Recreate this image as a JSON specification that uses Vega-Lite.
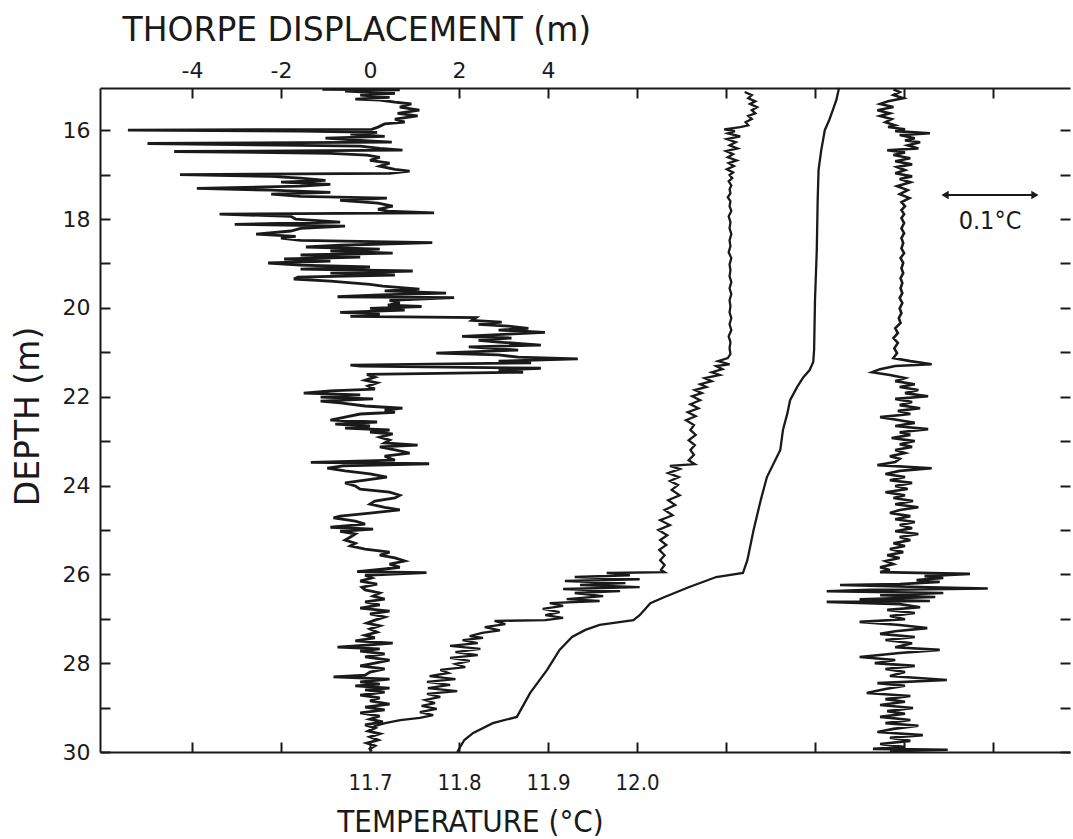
{
"$schema": "https://vega.github.io/schema/vega-lite/v6.json",
"width": 970, "height": 664,
"autosize": {"type": "none"},
"padding": {"left": 100, "top": 88, "right": 3, "bottom": 87},
"background": "white",
"config": {"view": {"stroke": null},
 "axis": {"domainColor": "#1a1a1a", "tickColor": "#1a1a1a", "labelColor": "#1a1a1a", "titleColor": "#1a1a1a", "grid": false, "labelFont": "DejaVu Sans", "titleFont": "DejaVu Sans", "titleFontWeight": "normal", "domainWidth": 2, "tickWidth": 2}},
"datasets": {
"thorpe": [
{"depth":15.08,"disp":-1.07},{"depth":15.09,"disp":0.67},{"depth":15.12,"disp":-0.56},{"depth":15.17,"disp":0.56},{"depth":15.21,"disp":-0.22},{"depth":15.26,"disp":0.44},{"depth":15.30,"disp":-0.33},{"depth":15.32,"disp":0.22},{"depth":15.37,"disp":0.56},{"depth":15.41,"disp":0.93},{"depth":15.48,"disp":0.67},{"depth":15.55,"disp":1.11},{"depth":15.62,"disp":0.62},{"depth":15.68,"disp":1.07},{"depth":15.75,"disp":0.56},{"depth":15.82,"disp":0.78},{"depth":15.86,"disp":0.33},{"depth":15.93,"disp":0.18},{"depth":15.98,"disp":0.04},
{"depth":16.00,"disp":-5.44},{"depth":16.02,"disp":-1.56},{"depth":16.05,"disp":0.16},{"depth":16.09,"disp":-0.44},{"depth":16.14,"disp":0.33},{"depth":16.18,"disp":-1.00},{"depth":16.23,"disp":-0.22},{"depth":16.27,"disp":0.49},{"depth":16.30,"disp":-5.00},{"depth":16.34,"disp":-1.56},{"depth":16.36,"disp":-0.22},{"depth":16.41,"disp":0.22},{"depth":16.45,"disp":0.73},{"depth":16.48,"disp":-4.40},{"depth":16.52,"disp":-0.89},{"depth":16.56,"disp":-0.07},{"depth":16.61,"disp":0.22},{"depth":16.68,"disp":0.00},{"depth":16.74,"disp":0.44},{"depth":16.81,"disp":0.22},{"depth":16.88,"disp":0.56},{"depth":16.92,"disp":0.89},{"depth":16.97,"disp":0.44},
{"depth":17.00,"disp":-4.27},{"depth":17.04,"disp":-2.22},{"depth":17.08,"disp":-1.56},{"depth":17.13,"disp":-1.00},{"depth":17.17,"disp":-2.00},{"depth":17.22,"disp":-0.89},{"depth":17.26,"disp":-1.56},{"depth":17.31,"disp":-3.89},{"depth":17.35,"disp":-2.22},{"depth":17.40,"disp":-0.89},{"depth":17.44,"disp":-2.22},{"depth":17.49,"disp":-1.56},{"depth":17.53,"disp":0.38},{"depth":17.58,"disp":-0.67},{"depth":17.64,"disp":0.18},{"depth":17.71,"disp":0.51},{"depth":17.78,"disp":0.18},{"depth":17.82,"disp":0.40},{"depth":17.86,"disp":1.44},{"depth":17.89,"disp":-3.38},{"depth":17.94,"disp":-1.78},
{"depth":18.00,"disp":-1.67},{"depth":18.07,"disp":-0.67},{"depth":18.12,"disp":-3.04},{"depth":18.16,"disp":-0.56},{"depth":18.21,"disp":-1.56},{"depth":18.27,"disp":-1.78},{"depth":18.34,"disp":-2.56},{"depth":18.39,"disp":-1.67},{"depth":18.43,"disp":-2.00},{"depth":18.48,"disp":-1.56},{"depth":18.53,"disp":1.40},{"depth":18.59,"disp":-0.67},{"depth":18.63,"disp":-1.44},{"depth":18.68,"disp":0.22},{"depth":18.72,"disp":-0.89},{"depth":18.77,"disp":0.51},{"depth":18.81,"disp":-1.56},{"depth":18.86,"disp":-0.22},{"depth":18.90,"disp":-1.93},{"depth":18.95,"disp":-0.89},{"depth":18.99,"disp":-2.29},
{"depth":19.04,"disp":-1.56},{"depth":19.08,"disp":0.00},{"depth":19.13,"disp":-1.56},{"depth":19.17,"disp":0.96},{"depth":19.22,"disp":-0.89},{"depth":19.26,"disp":0.56},{"depth":19.31,"disp":-1.62},{"depth":19.35,"disp":-1.71},{"depth":19.40,"disp":-0.89},{"depth":19.47,"disp":0.00},{"depth":19.51,"disp":0.29},{"depth":19.58,"disp":1.11},{"depth":19.62,"disp":0.33},{"depth":19.67,"disp":1.71},{"depth":19.71,"disp":0.22},{"depth":19.75,"disp":-0.73},{"depth":19.77,"disp":1.89},{"depth":19.83,"disp":0.44},{"depth":19.89,"disp":0.67},{"depth":19.94,"disp":0.40},{"depth":19.97,"disp":1.16},
{"depth":20.01,"disp":0.00},{"depth":20.05,"disp":0.78},{"depth":20.10,"disp":-0.67},{"depth":20.14,"disp":0.22},{"depth":20.19,"disp":-0.44},{"depth":20.22,"disp":2.38},{"depth":20.28,"disp":2.29},{"depth":20.32,"disp":2.96},{"depth":20.37,"disp":2.44},{"depth":20.41,"disp":3.11},{"depth":20.46,"disp":3.56},{"depth":20.50,"disp":2.89},{"depth":20.55,"disp":3.93},{"depth":20.59,"disp":3.11},{"depth":20.64,"disp":2.07},{"depth":20.68,"disp":3.18},{"depth":20.73,"disp":2.44},{"depth":20.77,"disp":2.89},{"depth":20.84,"disp":3.84},{"depth":20.88,"disp":2.22},{"depth":20.95,"disp":3.33},
{"depth":21.02,"disp":1.49},{"depth":21.06,"disp":2.89},{"depth":21.11,"disp":3.33},{"depth":21.15,"disp":4.67},{"depth":21.20,"disp":2.89},{"depth":21.24,"disp":3.62},{"depth":21.29,"disp":-0.44},{"depth":21.31,"disp":-0.22},{"depth":21.36,"disp":3.84},{"depth":21.40,"disp":2.89},{"depth":21.45,"disp":3.44},{"depth":21.50,"disp":-0.07},{"depth":21.56,"disp":0.11},{"depth":21.63,"disp":-0.11},{"depth":21.69,"disp":0.16},{"depth":21.76,"disp":-0.04},{"depth":21.83,"disp":0.11},{"depth":21.87,"disp":-0.89},{"depth":21.92,"disp":-1.49},{"depth":21.96,"disp":-0.22},
{"depth":22.01,"disp":-1.11},{"depth":22.05,"disp":0.07},{"depth":22.10,"disp":-1.11},{"depth":22.14,"disp":-0.67},{"depth":22.21,"disp":-0.11},{"depth":22.26,"disp":0.73},{"depth":22.30,"disp":0.33},{"depth":22.35,"disp":0.56},{"depth":22.39,"disp":-0.22},{"depth":22.46,"disp":-0.56},{"depth":22.53,"disp":-0.89},{"depth":22.57,"disp":0.16},{"depth":22.62,"disp":-0.78},{"depth":22.66,"disp":0.00},{"depth":22.71,"disp":-0.56},{"depth":22.75,"disp":0.44},{"depth":22.80,"disp":0.00},{"depth":22.84,"disp":0.51},{"depth":22.91,"disp":0.22},{"depth":22.98,"disp":0.44},
{"depth":23.04,"disp":0.33},{"depth":23.09,"disp":1.07},{"depth":23.13,"disp":0.22},{"depth":23.20,"disp":0.56},{"depth":23.27,"disp":0.89},{"depth":23.34,"disp":0.33},{"depth":23.43,"disp":0.56},{"depth":23.48,"disp":-1.33},{"depth":23.51,"disp":1.33},{"depth":23.56,"disp":-0.60},{"depth":23.61,"disp":-0.96},{"depth":23.67,"disp":-0.56},{"depth":23.74,"disp":0.00},{"depth":23.81,"disp":0.38},{"depth":23.88,"disp":-0.11},{"depth":23.94,"disp":-0.56},
{"depth":24.01,"disp":-0.33},{"depth":24.08,"disp":-0.22},{"depth":24.15,"disp":0.44},{"depth":24.22,"disp":0.67},{"depth":24.28,"disp":0.56},{"depth":24.35,"disp":0.11},{"depth":24.42,"disp":0.00},{"depth":24.49,"disp":0.33},{"depth":24.55,"disp":0.67},{"depth":24.62,"disp":0.00},{"depth":24.69,"disp":-0.67},{"depth":24.73,"disp":-0.82},{"depth":24.80,"disp":-0.33},{"depth":24.87,"disp":-0.11},{"depth":24.94,"disp":-0.89},{"depth":24.98,"disp":0.07},
{"depth":25.03,"disp":-0.67},{"depth":25.09,"disp":-0.33},{"depth":25.16,"disp":-0.44},{"depth":25.23,"disp":-0.56},{"depth":25.30,"disp":-0.33},{"depth":25.36,"disp":-0.44},{"depth":25.43,"disp":-0.11},{"depth":25.50,"disp":0.44},{"depth":25.57,"disp":0.22},{"depth":25.63,"disp":0.56},{"depth":25.70,"disp":0.78},{"depth":25.77,"disp":0.44},{"depth":25.84,"disp":0.67},{"depth":25.88,"disp":0.33},{"depth":25.94,"disp":-0.29},{"depth":25.96,"disp":1.27},
{"depth":26.02,"disp":-0.11},{"depth":26.08,"disp":0.04},{"depth":26.15,"disp":-0.22},{"depth":26.22,"disp":0.16},{"depth":26.29,"disp":-0.18},{"depth":26.35,"disp":-0.11},{"depth":26.42,"disp":0.22},{"depth":26.49,"disp":0.07},{"depth":26.56,"disp":0.33},{"depth":26.62,"disp":-0.11},{"depth":26.69,"disp":0.22},{"depth":26.76,"disp":-0.22},{"depth":26.83,"disp":0.44},{"depth":26.89,"disp":0.00},{"depth":26.96,"disp":0.33},
{"depth":27.03,"disp":0.11},{"depth":27.10,"disp":-0.07},{"depth":27.16,"disp":0.22},{"depth":27.23,"disp":0.00},{"depth":27.30,"disp":0.16},{"depth":27.37,"disp":-0.11},{"depth":27.43,"disp":0.11},{"depth":27.50,"disp":-0.33},{"depth":27.55,"disp":0.51},{"depth":27.59,"disp":0.00},{"depth":27.64,"disp":-0.73},{"depth":27.68,"disp":0.22},{"depth":27.73,"disp":-0.22},{"depth":27.79,"disp":0.33},{"depth":27.86,"disp":-0.11},{"depth":27.93,"disp":0.44},
{"depth":28.00,"disp":0.11},{"depth":28.06,"disp":-0.22},{"depth":28.13,"disp":0.33},{"depth":28.20,"disp":0.00},{"depth":28.27,"disp":-0.11},{"depth":28.31,"disp":-0.82},{"depth":28.36,"disp":0.44},{"depth":28.42,"disp":-0.22},{"depth":28.47,"disp":0.22},{"depth":28.51,"disp":-0.33},{"depth":28.56,"disp":0.44},{"depth":28.60,"disp":-0.11},{"depth":28.65,"disp":0.33},{"depth":28.72,"disp":-0.22},{"depth":28.78,"disp":0.22},{"depth":28.85,"disp":0.00},{"depth":28.92,"disp":0.44},{"depth":28.99,"disp":-0.11},
{"depth":29.05,"disp":0.33},{"depth":29.12,"disp":-0.22},{"depth":29.19,"disp":0.22},{"depth":29.26,"disp":0.00},{"depth":29.32,"disp":0.29},{"depth":29.39,"disp":-0.11},{"depth":29.46,"disp":0.11},{"depth":29.53,"disp":-0.04},{"depth":29.59,"disp":0.22},{"depth":29.66,"disp":0.00},{"depth":29.73,"disp":0.18},{"depth":29.80,"disp":-0.07},{"depth":29.86,"disp":0.11},{"depth":29.93,"disp":0.00},{"depth":29.98,"disp":0.04}
],
"temperature": [
{"profile":"measured","depth":15.14,"temp":12.121},{"profile":"measured","depth":15.21,"temp":12.129},{"profile":"measured","depth":15.28,"temp":12.125},{"profile":"measured","depth":15.35,"temp":12.133},{"profile":"measured","depth":15.41,"temp":12.127},{"profile":"measured","depth":15.48,"temp":12.135},{"profile":"measured","depth":15.55,"temp":12.129},{"profile":"measured","depth":15.62,"temp":12.133},{"profile":"measured","depth":15.68,"temp":12.125},{"profile":"measured","depth":15.75,"temp":12.129},{"profile":"measured","depth":15.82,"temp":12.122},{"profile":"measured","depth":15.89,"temp":12.125},{"profile":"measured","depth":15.93,"temp":12.116},{"profile":"measured","depth":15.98,"temp":12.098},
{"profile":"measured","depth":16.02,"temp":12.110},{"profile":"measured","depth":16.07,"temp":12.102},{"profile":"measured","depth":16.14,"temp":12.116},{"profile":"measured","depth":16.20,"temp":12.101},{"profile":"measured","depth":16.27,"temp":12.111},{"profile":"measured","depth":16.34,"temp":12.104},{"profile":"measured","depth":16.41,"temp":12.113},{"profile":"measured","depth":16.47,"temp":12.100},{"profile":"measured","depth":16.54,"temp":12.108},{"profile":"measured","depth":16.61,"temp":12.102},{"profile":"measured","depth":16.68,"temp":12.112},{"profile":"measured","depth":16.74,"temp":12.103},{"profile":"measured","depth":16.81,"temp":12.109},{"profile":"measured","depth":16.88,"temp":12.101},{"profile":"measured","depth":16.95,"temp":12.108},
{"profile":"measured","depth":17.01,"temp":12.104},{"profile":"measured","depth":17.08,"temp":12.107},{"profile":"measured","depth":17.15,"temp":12.103},{"profile":"measured","depth":17.24,"temp":12.106},{"profile":"measured","depth":17.33,"temp":12.104},{"profile":"measured","depth":17.42,"temp":12.105},{"profile":"measured","depth":17.51,"temp":12.102},{"profile":"measured","depth":17.60,"temp":12.105},{"profile":"measured","depth":17.71,"temp":12.104},{"profile":"measured","depth":17.82,"temp":12.106},{"profile":"measured","depth":17.94,"temp":12.103},
{"profile":"measured","depth":18.07,"temp":12.105},{"profile":"measured","depth":18.21,"temp":12.104},{"profile":"measured","depth":18.34,"temp":12.106},{"profile":"measured","depth":18.48,"temp":12.104},{"profile":"measured","depth":18.61,"temp":12.105},{"profile":"measured","depth":18.75,"temp":12.103},{"profile":"measured","depth":18.88,"temp":12.106},{"profile":"measured","depth":19.02,"temp":12.104},{"profile":"measured","depth":19.15,"temp":12.105},{"profile":"measured","depth":19.29,"temp":12.104},{"profile":"measured","depth":19.42,"temp":12.106},{"profile":"measured","depth":19.56,"temp":12.104},{"profile":"measured","depth":19.69,"temp":12.106},{"profile":"measured","depth":19.83,"temp":12.104},{"profile":"measured","depth":19.96,"temp":12.105},
{"profile":"measured","depth":20.10,"temp":12.104},{"profile":"measured","depth":20.23,"temp":12.106},{"profile":"measured","depth":20.37,"temp":12.104},{"profile":"measured","depth":20.50,"temp":12.106},{"profile":"measured","depth":20.64,"temp":12.103},{"profile":"measured","depth":20.77,"temp":12.105},{"profile":"measured","depth":20.91,"temp":12.104},{"profile":"measured","depth":21.04,"temp":12.105},{"profile":"measured","depth":21.13,"temp":12.102},{"profile":"measured","depth":21.20,"temp":12.091},{"profile":"measured","depth":21.27,"temp":12.104},{"profile":"measured","depth":21.31,"temp":12.089},{"profile":"measured","depth":21.38,"temp":12.096},{"profile":"measured","depth":21.45,"temp":12.084},{"profile":"measured","depth":21.51,"temp":12.093},{"profile":"measured","depth":21.58,"temp":12.076},{"profile":"measured","depth":21.65,"temp":12.084},{"profile":"measured","depth":21.72,"temp":12.071},{"profile":"measured","depth":21.78,"temp":12.078},{"profile":"measured","depth":21.85,"temp":12.065},{"profile":"measured","depth":21.92,"temp":12.073},{"profile":"measured","depth":21.99,"temp":12.062},
{"profile":"measured","depth":22.08,"temp":12.071},{"profile":"measured","depth":22.17,"temp":12.060},{"profile":"measured","depth":22.26,"temp":12.069},{"profile":"measured","depth":22.35,"temp":12.057},{"profile":"measured","depth":22.44,"temp":12.066},{"profile":"measured","depth":22.53,"temp":12.055},{"profile":"measured","depth":22.64,"temp":12.064},{"profile":"measured","depth":22.75,"temp":12.060},{"profile":"measured","depth":22.86,"temp":12.066},{"profile":"measured","depth":22.98,"temp":12.058},{"profile":"measured","depth":23.09,"temp":12.065},{"profile":"measured","depth":23.20,"temp":12.060},{"profile":"measured","depth":23.31,"temp":12.064},{"profile":"measured","depth":23.43,"temp":12.058},{"profile":"measured","depth":23.52,"temp":12.065},{"profile":"measured","depth":23.56,"temp":12.037},{"profile":"measured","depth":23.63,"temp":12.048},{"profile":"measured","depth":23.72,"temp":12.035},{"profile":"measured","depth":23.81,"temp":12.047},{"profile":"measured","depth":23.90,"temp":12.037},{"profile":"measured","depth":23.99,"temp":12.046},
{"profile":"measured","depth":24.10,"temp":12.039},{"profile":"measured","depth":24.22,"temp":12.048},{"profile":"measured","depth":24.33,"temp":12.035},{"profile":"measured","depth":24.44,"temp":12.043},{"profile":"measured","depth":24.55,"temp":12.031},{"profile":"measured","depth":24.67,"temp":12.040},{"profile":"measured","depth":24.78,"temp":12.026},{"profile":"measured","depth":24.89,"temp":12.037},{"profile":"measured","depth":25.00,"temp":12.024},{"profile":"measured","depth":25.12,"temp":12.034},{"profile":"measured","depth":25.23,"temp":12.026},{"profile":"measured","depth":25.34,"temp":12.033},{"profile":"measured","depth":25.45,"temp":12.025},{"profile":"measured","depth":25.57,"temp":12.031},{"profile":"measured","depth":25.68,"temp":12.026},{"profile":"measured","depth":25.79,"temp":12.031},{"profile":"measured","depth":25.90,"temp":12.027},{"profile":"measured","depth":25.95,"temp":12.031},{"profile":"measured","depth":25.97,"temp":11.966},
{"profile":"measured","depth":26.02,"temp":11.992},{"profile":"measured","depth":26.06,"temp":11.930},{"profile":"measured","depth":26.11,"temp":12.003},{"profile":"measured","depth":26.15,"temp":11.919},{"profile":"measured","depth":26.20,"temp":11.987},{"profile":"measured","depth":26.24,"temp":11.936},{"profile":"measured","depth":26.29,"temp":12.003},{"profile":"measured","depth":26.33,"temp":11.917},{"profile":"measured","depth":26.38,"temp":11.981},{"profile":"measured","depth":26.42,"temp":11.930},{"profile":"measured","depth":26.49,"temp":11.962},{"profile":"measured","depth":26.56,"temp":11.921},{"profile":"measured","depth":26.60,"temp":11.958},{"profile":"measured","depth":26.65,"temp":11.902},{"profile":"measured","depth":26.71,"temp":11.917},{"profile":"measured","depth":26.78,"temp":11.894},{"profile":"measured","depth":26.85,"temp":11.913},{"profile":"measured","depth":26.92,"temp":11.897},{"profile":"measured","depth":26.98,"temp":11.917},
{"profile":"measured","depth":27.03,"temp":11.897},{"profile":"measured","depth":27.05,"temp":11.840},{"profile":"measured","depth":27.12,"temp":11.852},{"profile":"measured","depth":27.19,"temp":11.829},{"profile":"measured","depth":27.26,"temp":11.846},{"profile":"measured","depth":27.32,"temp":11.826},{"profile":"measured","depth":27.39,"temp":11.812},{"profile":"measured","depth":27.43,"temp":11.827},{"profile":"measured","depth":27.48,"temp":11.804},{"profile":"measured","depth":27.55,"temp":11.821},{"profile":"measured","depth":27.61,"temp":11.790},{"profile":"measured","depth":27.68,"temp":11.824},{"profile":"measured","depth":27.75,"temp":11.796},{"profile":"measured","depth":27.82,"temp":11.821},{"profile":"measured","depth":27.88,"temp":11.790},{"profile":"measured","depth":27.95,"temp":11.812},
{"profile":"measured","depth":28.02,"temp":11.796},{"profile":"measured","depth":28.09,"temp":11.807},{"profile":"measured","depth":28.15,"temp":11.779},{"profile":"measured","depth":28.22,"temp":11.788},{"profile":"measured","depth":28.29,"temp":11.767},{"profile":"measured","depth":28.36,"temp":11.796},{"profile":"measured","depth":28.42,"temp":11.764},{"profile":"measured","depth":28.49,"temp":11.790},{"profile":"measured","depth":28.56,"temp":11.765},{"profile":"measured","depth":28.63,"temp":11.798},{"profile":"measured","depth":28.69,"temp":11.764},{"profile":"measured","depth":28.76,"temp":11.779},{"profile":"measured","depth":28.83,"temp":11.762},{"profile":"measured","depth":28.90,"temp":11.773},{"profile":"measured","depth":28.96,"temp":11.758},
{"profile":"measured","depth":29.03,"temp":11.775},{"profile":"measured","depth":29.10,"temp":11.756},{"profile":"measured","depth":29.17,"temp":11.771},{"profile":"measured","depth":29.23,"temp":11.756},{"profile":"measured","depth":29.28,"temp":11.734},{"profile":"measured","depth":29.35,"temp":11.717},{"profile":"measured","depth":29.41,"temp":11.706},{"profile":"measured","depth":29.46,"temp":11.702},
{"profile":"sorted","depth":15.05,"temp":12.227},{"profile":"sorted","depth":15.14,"temp":12.226},{"profile":"sorted","depth":15.32,"temp":12.224},{"profile":"sorted","depth":15.55,"temp":12.220},{"profile":"sorted","depth":15.77,"temp":12.216},{"profile":"sorted","depth":16.00,"temp":12.211},{"profile":"sorted","depth":16.23,"temp":12.209},{"profile":"sorted","depth":16.45,"temp":12.207},{"profile":"sorted","depth":16.90,"temp":12.204},{"profile":"sorted","depth":17.58,"temp":12.203},{"profile":"sorted","depth":18.70,"temp":12.202},{"profile":"sorted","depth":19.83,"temp":12.200},{"profile":"sorted","depth":20.95,"temp":12.199},{"profile":"sorted","depth":21.22,"temp":12.198},{"profile":"sorted","depth":21.40,"temp":12.194},{"profile":"sorted","depth":21.56,"temp":12.187},{"profile":"sorted","depth":21.78,"temp":12.180},{"profile":"sorted","depth":22.08,"temp":12.172},{"profile":"sorted","depth":22.37,"temp":12.169},{"profile":"sorted","depth":22.75,"temp":12.164},{"profile":"sorted","depth":23.20,"temp":12.161},{"profile":"sorted","depth":23.81,"temp":12.146},{"profile":"sorted","depth":24.33,"temp":12.139},{"profile":"sorted","depth":25.00,"temp":12.131},{"profile":"sorted","depth":25.68,"temp":12.124},{"profile":"sorted","depth":25.97,"temp":12.119},{"profile":"sorted","depth":26.06,"temp":12.089},{"profile":"sorted","depth":26.29,"temp":12.058},{"profile":"sorted","depth":26.51,"temp":12.031},{"profile":"sorted","depth":26.65,"temp":12.015},{"profile":"sorted","depth":26.92,"temp":12.003},{"profile":"sorted","depth":27.03,"temp":11.996},{"profile":"sorted","depth":27.14,"temp":11.958},{"profile":"sorted","depth":27.25,"temp":11.942},{"profile":"sorted","depth":27.41,"temp":11.927},{"profile":"sorted","depth":27.70,"temp":11.913},{"profile":"sorted","depth":28.15,"temp":11.899},{"profile":"sorted","depth":28.67,"temp":11.880},{"profile":"sorted","depth":29.21,"temp":11.865},{"profile":"sorted","depth":29.35,"temp":11.838},{"profile":"sorted","depth":29.57,"temp":11.816},{"profile":"sorted","depth":29.73,"temp":11.806},{"profile":"sorted","depth":30.00,"temp":11.798}
],
"fluctuation": [
{"depth":15.08,"dT":-0.013},{"depth":15.14,"dT":-0.006},{"depth":15.21,"dT":-0.013},{"depth":15.28,"dT":-0.002},{"depth":15.35,"dT":-0.019},{"depth":15.41,"dT":-0.028},{"depth":15.48,"dT":-0.013},{"depth":15.55,"dT":-0.031},{"depth":15.62,"dT":-0.017},{"depth":15.68,"dT":-0.028},{"depth":15.75,"dT":-0.015},{"depth":15.82,"dT":-0.022},{"depth":15.89,"dT":-0.011},{"depth":15.93,"dT":-0.019},{"depth":15.98,"dT":0.0},
{"depth":16.02,"dT":-0.011},{"depth":16.07,"dT":0.028},{"depth":16.11,"dT":-0.006},{"depth":16.18,"dT":0.011},{"depth":16.23,"dT":0.0},{"depth":16.27,"dT":0.017},{"depth":16.34,"dT":0.003},{"depth":16.41,"dT":0.015},{"depth":16.45,"dT":-0.020},{"depth":16.50,"dT":0.0},{"depth":16.56,"dT":-0.013},{"depth":16.63,"dT":0.006},{"depth":16.70,"dT":-0.011},{"depth":16.77,"dT":0.008},{"depth":16.83,"dT":-0.009},{"depth":16.90,"dT":0.0},{"depth":16.97,"dT":-0.011},
{"depth":17.04,"dT":0.008},{"depth":17.10,"dT":-0.006},{"depth":17.17,"dT":0.006},{"depth":17.26,"dT":-0.009},{"depth":17.35,"dT":0.003},{"depth":17.44,"dT":-0.006},{"depth":17.53,"dT":0.005},{"depth":17.62,"dT":-0.004},{"depth":17.71,"dT":0.0},{"depth":17.80,"dT":-0.004},{"depth":17.89,"dT":-0.001},{"depth":17.98,"dT":-0.004},
{"depth":18.09,"dT":-0.001},{"depth":18.21,"dT":-0.004},{"depth":18.32,"dT":-0.001},{"depth":18.43,"dT":-0.004},{"depth":18.54,"dT":-0.002},{"depth":18.66,"dT":-0.004},{"depth":18.77,"dT":-0.001},{"depth":18.88,"dT":-0.005},{"depth":18.99,"dT":-0.002},{"depth":19.11,"dT":-0.004},{"depth":19.22,"dT":-0.002},{"depth":19.33,"dT":-0.005},{"depth":19.44,"dT":-0.003},{"depth":19.56,"dT":-0.005},{"depth":19.67,"dT":-0.003},{"depth":19.78,"dT":-0.006},{"depth":19.89,"dT":-0.003},
{"depth":20.01,"dT":-0.006},{"depth":20.12,"dT":-0.004},{"depth":20.23,"dT":-0.007},{"depth":20.34,"dT":-0.005},{"depth":20.46,"dT":-0.011},{"depth":20.57,"dT":-0.008},{"depth":20.68,"dT":-0.013},{"depth":20.79,"dT":-0.008},{"depth":20.91,"dT":-0.012},{"depth":21.02,"dT":-0.009},{"depth":21.13,"dT":-0.013},{"depth":21.20,"dT":0.006},{"depth":21.27,"dT":0.030},{"depth":21.31,"dT":-0.011},{"depth":21.38,"dT":-0.028},{"depth":21.45,"dT":-0.037},{"depth":21.51,"dT":-0.017},{"depth":21.58,"dT":0.0},{"depth":21.65,"dT":-0.011},{"depth":21.72,"dT":0.011},{"depth":21.78,"dT":-0.006},{"depth":21.85,"dT":0.015},{"depth":21.92,"dT":0.0},{"depth":21.99,"dT":0.026},
{"depth":22.05,"dT":-0.011},{"depth":22.12,"dT":0.008},{"depth":22.19,"dT":-0.006},{"depth":22.26,"dT":0.017},{"depth":22.32,"dT":-0.008},{"depth":22.39,"dT":0.006},{"depth":22.46,"dT":-0.028},{"depth":22.53,"dT":-0.006},{"depth":22.59,"dT":0.011},{"depth":22.66,"dT":-0.011},{"depth":22.73,"dT":0.026},{"depth":22.80,"dT":-0.006},{"depth":22.86,"dT":0.006},{"depth":22.93,"dT":-0.015},{"depth":23.00,"dT":0.011},{"depth":23.07,"dT":-0.006},{"depth":23.13,"dT":0.008},{"depth":23.20,"dT":-0.011},{"depth":23.27,"dT":0.0},{"depth":23.34,"dT":-0.017},{"depth":23.40,"dT":-0.006},{"depth":23.47,"dT":-0.011},{"depth":23.54,"dT":-0.031},{"depth":23.61,"dT":0.030},{"depth":23.67,"dT":-0.006},{"depth":23.74,"dT":-0.022},{"depth":23.81,"dT":0.0},{"depth":23.88,"dT":-0.017},{"depth":23.94,"dT":0.008},
{"depth":24.01,"dT":-0.011},{"depth":24.08,"dT":0.003},{"depth":24.15,"dT":-0.022},{"depth":24.22,"dT":0.0},{"depth":24.28,"dT":-0.013},{"depth":24.35,"dT":0.009},{"depth":24.42,"dT":-0.011},{"depth":24.49,"dT":0.015},{"depth":24.55,"dT":-0.006},{"depth":24.62,"dT":-0.017},{"depth":24.69,"dT":0.006},{"depth":24.76,"dT":-0.011},{"depth":24.82,"dT":0.011},{"depth":24.89,"dT":-0.006},{"depth":24.96,"dT":0.008},
{"depth":25.03,"dT":-0.011},{"depth":25.09,"dT":0.015},{"depth":25.16,"dT":-0.006},{"depth":25.23,"dT":0.006},{"depth":25.30,"dT":-0.013},{"depth":25.36,"dT":0.0},{"depth":25.43,"dT":-0.017},{"depth":25.50,"dT":-0.002},{"depth":25.57,"dT":-0.020},{"depth":25.63,"dT":-0.006},{"depth":25.70,"dT":-0.022},{"depth":25.77,"dT":-0.013},{"depth":25.84,"dT":-0.028},{"depth":25.90,"dT":-0.017},{"depth":25.95,"dT":-0.028},{"depth":25.99,"dT":0.073},
{"depth":26.04,"dT":0.022},{"depth":26.08,"dT":0.043},{"depth":26.13,"dT":0.013},{"depth":26.17,"dT":0.039},{"depth":26.22,"dT":-0.006},{"depth":26.24,"dT":-0.073},{"depth":26.29,"dT":0.028},{"depth":26.32,"dT":0.093},{"depth":26.35,"dT":-0.039},{"depth":26.38,"dT":-0.088},{"depth":26.42,"dT":0.043},{"depth":26.47,"dT":-0.028},{"depth":26.51,"dT":0.034},{"depth":26.56,"dT":-0.051},{"depth":26.60,"dT":0.028},{"depth":26.62,"dT":-0.088},{"depth":26.67,"dT":-0.006},{"depth":26.74,"dT":0.017},{"depth":26.80,"dT":-0.020},{"depth":26.87,"dT":0.011},{"depth":26.94,"dT":-0.017},
{"depth":27.01,"dT":0.0},{"depth":27.07,"dT":-0.051},{"depth":27.14,"dT":-0.006},{"depth":27.21,"dT":0.025},{"depth":27.28,"dT":-0.011},{"depth":27.34,"dT":-0.028},{"depth":27.41,"dT":0.011},{"depth":27.48,"dT":-0.022},{"depth":27.55,"dT":0.008},{"depth":27.64,"dT":-0.011},{"depth":27.70,"dT":0.039},{"depth":27.77,"dT":-0.006},{"depth":27.86,"dT":-0.051},{"depth":27.93,"dT":-0.011},
{"depth":28.00,"dT":-0.034},{"depth":28.06,"dT":0.011},{"depth":28.13,"dT":-0.022},{"depth":28.20,"dT":0.0},{"depth":28.29,"dT":-0.017},{"depth":28.38,"dT":0.047},{"depth":28.45,"dT":-0.031},{"depth":28.51,"dT":0.0},{"depth":28.58,"dT":-0.022},{"depth":28.67,"dT":-0.043},{"depth":28.74,"dT":0.006},{"depth":28.81,"dT":-0.022},{"depth":28.87,"dT":0.0},{"depth":28.94,"dT":-0.028},
{"depth":29.01,"dT":0.009},{"depth":29.08,"dT":-0.020},{"depth":29.14,"dT":0.0},{"depth":29.21,"dT":-0.028},{"depth":29.28,"dT":0.006},{"depth":29.35,"dT":-0.022},{"depth":29.41,"dT":0.015},{"depth":29.48,"dT":-0.013},{"depth":29.55,"dT":-0.031},{"depth":29.62,"dT":0.020},{"depth":29.68,"dT":-0.017},{"depth":29.75,"dT":0.006},{"depth":29.82,"dT":-0.028},{"depth":29.89,"dT":0.0},{"depth":29.93,"dT":-0.036},{"depth":29.95,"dT":0.048},{"depth":29.98,"dT":-0.017}
],
"scalebar": [{"depth":17.46,"from":0.045,"to":0.146,"mid":0.0955,"labelDepth":18.22,"label":"0.1°C"}],
"arrowheads": [{"depth":17.46,"dT":0.045,"shape":"triangle-left"},{"depth":17.46,"dT":0.146,"shape":"triangle-right"}]
},
"resolve": {"scale": {"x": "independent"}, "axis": {"x": "independent", "y": "independent"}},
"layer": [
{"data": {"name": "thorpe"},
 "mark": {"type": "line", "color": "#1a1a1a", "strokeWidth": 2.8},
 "encoding": {
  "x": {"field": "disp", "type": "quantitative", "scale": {"domain": [-6.067, 15.73], "nice": false, "zero": false},
   "axis": {"orient": "top", "values": [-4,-2,0,2,4,6,8,10,12,14], "labelExpr": "datum.value <= 4 ? (datum.value < 0 ? '-' + abs(datum.value) : '' + datum.value) : ''", "tickSize": -10, "labelPadding": 16, "labelFontSize": 22, "labelFont": "DejaVu Sans",
    "title": "THORPE DISPLACEMENT (m)", "titleFontSize": 33, "titleAlign": "left", "titleX": 22, "titleY": -48, "titleBaseline": "alphabetic"}},
  "y": {"field": "depth", "type": "quantitative", "scale": {"domain": [15.05, 30], "reverse": true, "nice": false, "zero": false},
   "axis": {"orient": "left", "values": [16,17,18,19,20,21,22,23,24,25,26,27,28,29,30], "labelExpr": "datum.value % 2 == 0 ? '' + datum.value : ''", "tickSize": -10, "labelPadding": 20, "labelFontSize": 22,
    "title": "DEPTH (m)", "titleFontSize": 33, "titleAngle": 270, "titleX": -62, "titleY": 328, "titleAlign": "center", "titleBaseline": "alphabetic"}},
  "order": {"field": "depth", "type": "quantitative"}
 }},
{"data": {"name": "temperature"},
 "mark": {"type": "line", "color": "#1a1a1a", "strokeWidth": 2.3},
 "encoding": {
  "x": {"field": "temp", "type": "quantitative", "scale": {"domain": [11.39663, 12.48652], "nice": false, "zero": false},
   "axis": {"orient": "bottom", "values": [11.5,11.6,11.7,11.8,11.9,12.0,12.1,12.2,12.3,12.4], "labelExpr": "datum.value > 11.65 && datum.value < 12.05 ? format(datum.value, '.1f') : ''", "tickSize": -10, "labelPadding": 30, "labelFontSize": 22, "labelFont": "DejaVu Sans Condensed, DejaVu Sans",
    "title": "TEMPERATURE (°C)", "titleFont": "DejaVu Sans Condensed, DejaVu Sans", "titleFontSize": 31, "titleAlign": "center", "titleX": 370, "titleY": 79, "titleBaseline": "alphabetic"}},
  "y": {"field": "depth", "type": "quantitative", "axis": null},
  "detail": {"field": "profile", "type": "nominal"},
  "order": {"field": "depth", "type": "quantitative"}
 }},
{"data": {"name": "fluctuation"},
 "mark": {"type": "line", "color": "#1a1a1a", "strokeWidth": 2.6},
 "encoding": {
  "x": {"field": "dT", "type": "quantitative", "scale": {"domain": [-0.90449, 0.18539], "nice": false, "zero": false}, "axis": null},
  "y": {"field": "depth", "type": "quantitative",
   "axis": {"orient": "right", "values": [16,17,18,19,20,21,22,23,24,25,26,27,28,29,30], "labels": false, "tickSize": -10, "domain": false, "title": null}},
  "order": {"field": "depth", "type": "quantitative"}
 }},
{"data": {"name": "scalebar"},
 "mark": {"type": "rule", "color": "#1a1a1a", "strokeWidth": 2},
 "encoding": {
  "x": {"field": "from", "type": "quantitative", "scale": {"domain": [-0.90449, 0.18539], "nice": false, "zero": false}, "axis": null},
  "x2": {"field": "to"},
  "y": {"field": "depth", "type": "quantitative", "axis": null}
 }},
{"data": {"name": "arrowheads"},
 "mark": {"type": "point", "filled": true, "color": "#1a1a1a", "size": 70, "opacity": 1},
 "encoding": {
  "x": {"field": "dT", "type": "quantitative", "scale": {"domain": [-0.90449, 0.18539], "nice": false, "zero": false}, "axis": null},
  "y": {"field": "depth", "type": "quantitative", "axis": null},
  "shape": {"field": "shape", "type": "nominal", "scale": null, "legend": null}
 }},
{"data": {"name": "scalebar"},
 "mark": {"type": "text", "color": "#1a1a1a", "fontSize": 25, "font": "DejaVu Sans Condensed, DejaVu Sans", "align": "center", "baseline": "alphabetic"},
 "encoding": {
  "x": {"field": "mid", "type": "quantitative", "scale": {"domain": [-0.90449, 0.18539], "nice": false, "zero": false}, "axis": null},
  "y": {"field": "labelDepth", "type": "quantitative", "axis": null},
  "text": {"field": "label"}
 }}
]
}
